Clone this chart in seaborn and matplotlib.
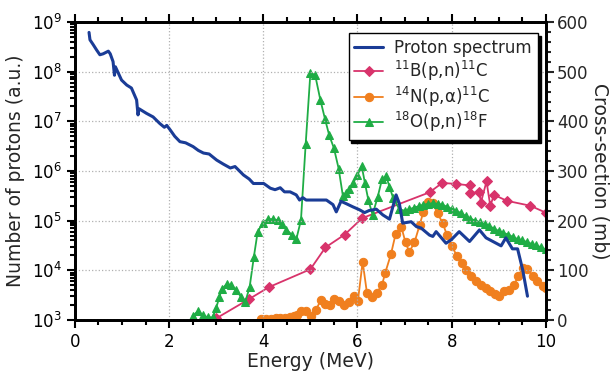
import numpy as np
import pandas as pd
from matplotlib import pyplot as plt
from matplotlib.ticker import MultipleLocator, LogLocator, NullFormatter
import seaborn as sns

sns.set_style('ticks')
plt.rcParams['font.family'] = ['DejaVu Sans']

# proton spectrum (left axis, a.u.)
spec_energy = [0.30, 0.32, 0.39, 0.46, 0.53, 0.60, 0.71, 0.75, 0.81, 0.84, 0.86, 0.99, 1.10, 1.20,
               1.31, 1.34, 1.36, 1.52, 1.66, 1.80, 1.90, 1.95, 2.02, 2.12, 2.23, 2.35, 2.51, 2.62,
               2.73, 2.85, 3.01, 3.15, 3.30, 3.40, 3.58, 3.70, 3.79, 4.01, 4.15, 4.25, 4.36, 4.45,
               4.57, 4.70, 4.77, 4.84, 4.91, 5.12, 5.34, 5.48, 5.55, 5.65, 5.76, 5.90, 6.04, 6.15,
               6.25, 6.40, 6.54, 6.68, 6.82, 6.89, 6.96, 7.14, 7.25, 7.35, 7.53, 7.60, 7.67, 7.88,
               7.99, 8.16, 8.38, 8.59, 8.73, 9.05, 9.15, 9.29, 9.40, 9.51, 9.61]
spec_counts = [6.2e8, 4.4e8, 3.5e8, 2.75e8, 2.2e8, 2.3e8, 2.6e8, 2.3e8, 1.6e8, 8.5e7, 1.26e8, 6.8e7,
               5.4e7, 4.7e7, 2.7e7, 1.35e7, 1.8e7, 1.45e7, 1.23e7, 9.1e6, 7.6e6, 8.3e6, 6.8e6, 5.0e6,
               3.9e6, 3.7e6, 3.1e6, 2.6e6, 2.3e6, 2.2e6, 1.66e6, 1.38e6, 1.15e6, 1.23e6, 8.3e5, 6.9e5,
               5.6e5, 5.6e5, 4.5e5, 4.2e5, 4.6e5, 3.8e5, 3.8e5, 3.3e5, 2.6e5, 2.9e5, 2.6e5, 2.6e5,
               2.6e5, 2.1e5, 1.5e5, 2.45e5, 2.2e5, 1.9e5, 1.66e5, 1.45e5, 1.6e5, 1.7e5, 1.3e5, 1.07e5,
               3.3e5, 2.2e5, 8.9e4, 9.5e4, 7.6e4, 7.1e4, 5.1e4, 4.8e4, 6.0e4, 3.5e4, 4.1e4, 6.0e4,
               3.8e4, 6.5e4, 4.5e4, 3.1e4, 4.5e4, 2.7e4, 2.7e4, 1.0e4, 3.0e3]

# 11B(p,n)11C cross-section (mb)
b11_energy = [3.00, 3.70, 4.12, 5.00, 5.32, 5.73, 6.10, 7.53, 7.80, 8.09, 8.38, 8.40, 8.59, 8.62,
              8.74, 8.82, 8.90, 9.17, 9.67, 10.0]
b11_xs = [3, 42, 66, 102, 146, 172, 205, 257, 276, 274, 271, 255, 258, 236, 279, 230, 252, 240, 230, 216]

# 14N(p,a)11C cross-section (mb)
n14_energy = [3.96, 4.06, 4.16, 4.26, 4.36, 4.46, 4.56, 4.65, 4.72, 4.81, 4.91, 5.02, 5.12, 5.22,
              5.32, 5.41, 5.51, 5.61, 5.71, 5.81, 5.92, 6.01, 6.11, 6.20, 6.31, 6.41, 6.52, 6.59,
              6.71, 6.81, 6.93, 7.02, 7.10, 7.21, 7.32, 7.40, 7.49, 7.60, 7.70, 7.81, 7.90, 8.01,
              8.11, 8.21, 8.31, 8.41, 8.52, 8.62, 8.72, 8.81, 8.92, 9.01, 9.12, 9.21, 9.33, 9.41,
              9.52, 9.61, 9.72, 9.82, 9.93, 10.0]
n14_xs = [2, 2, 2, 3, 3, 4, 5, 7, 9, 17, 17, 8, 20, 40, 32, 30, 42, 39, 30, 37, 48, 39, 117, 55,
          47, 55, 70, 95, 132, 173, 188, 156, 137, 156, 191, 218, 238, 235, 215, 195, 171, 148,
          129, 114, 101, 89, 79, 70, 64, 58, 52, 49, 59, 60, 70, 89, 104, 102, 89, 79, 68, 64]

# 18O(p,n)18F cross-section (mb)
o18_energy = [2.50, 2.62, 2.72, 2.83, 2.93, 3.00, 3.07, 3.12, 3.22, 3.32, 3.43, 3.52, 3.62, 3.71,
              3.80, 3.88, 3.99, 4.10, 4.20, 4.31, 4.40, 4.49, 4.60, 4.70, 4.80, 4.90, 5.00, 5.10,
              5.21, 5.31, 5.40, 5.50, 5.60, 5.69, 5.76, 5.83, 5.91, 6.00, 6.09, 6.16, 6.23, 6.32,
              6.43, 6.52, 6.61, 6.68, 6.76, 6.89, 7.0, 7.1, 7.2, 7.3, 7.4, 7.5, 7.6, 7.7, 7.8,
              7.9, 8.0, 8.1, 8.2, 8.3, 8.4, 8.5, 8.6, 8.7, 8.8, 8.9, 9.0, 9.1, 9.2, 9.3, 9.4,
              9.5, 9.6, 9.7, 9.8, 9.9, 10.0]
o18_xs = [8, 18, 9, 5, 5, 24, 47, 62, 72, 70, 60, 47, 37, 66, 127, 177, 196, 203, 203, 201, 193,
          182, 172, 162, 201, 354, 497, 494, 444, 405, 372, 346, 305, 250, 256, 264, 276, 292,
          310, 275, 242, 212, 248, 283, 290, 268, 245, 223, 220, 223, 226, 229, 232, 234, 235,
          234, 232, 228, 224, 220, 215, 209, 204, 200, 197, 193, 189, 184, 179, 175, 172, 167,
          163, 160, 157, 153, 150, 146, 142]

blue = '#1a3c96'
pink = '#d8336b'
orange = '#f07f1e'
green = '#1fad45'

fig = plt.figure(figsize=(6.14, 3.75), dpi=100)
ax = fig.add_axes([0.122, 0.147, 0.767, 0.794])
ax2 = ax.twinx()

# cross-sections on the right axis
sns.lineplot(x=b11_energy, y=b11_xs, ax=ax2, color=pink, lw=1.3, marker='D', markersize=5,
             markeredgecolor=pink, sort=False, label=r'$^{11}$B(p,n)$^{11}$C')
sns.lineplot(x=n14_energy, y=n14_xs, ax=ax2, color=orange, lw=1.3, marker='o', markersize=6,
             markeredgecolor=orange, sort=False, label=r'$^{14}$N(p,α)$^{11}$C')
sns.lineplot(x=o18_energy, y=o18_xs, ax=ax2, color=green, lw=1.3, marker='^', markersize=6,
             markeredgecolor=green, sort=False, label=r'$^{18}$O(p,n)$^{18}$F')

# spectrum on the left (log) axis, drawn on top
sns.lineplot(x=spec_energy, y=spec_counts, ax=ax, color=blue, lw=2.2, sort=False,
             label='Proton spectrum')

ax.set_zorder(ax2.get_zorder() + 1)
ax.patch.set_visible(False)

ax.set_yscale('log')
ax.set_ylim(1e3, 1e9)
ax.set_xlim(0, 10)
ax.xaxis.set_major_locator(MultipleLocator(2))
ax.xaxis.set_minor_locator(MultipleLocator(0.5))
ax.yaxis.set_major_locator(LogLocator(base=10, numticks=10))
ax.yaxis.set_minor_locator(LogLocator(base=10, subs=np.arange(2, 10), numticks=10))
ax.yaxis.set_minor_formatter(NullFormatter())

ax2.set_ylim(0, 600)
ax2.yaxis.set_major_locator(MultipleLocator(100))
ax2.yaxis.set_minor_locator(MultipleLocator(20))

ax.grid(True, which='major', ls=':', color='#b0b0b0', lw=0.9)

ax.tick_params(which='both', direction='out', width=1.5, top=True, labelsize=12, colors='black')
ax.tick_params(which='major', length=6)
ax.tick_params(which='minor', length=3.5)
ax2.tick_params(which='both', direction='out', width=1.5, labelsize=12, pad=2)
ax2.tick_params(which='major', length=6)
ax2.tick_params(which='minor', length=3.5)
for a in (ax, ax2):
    for s in a.spines.values():
        s.set_linewidth(2)
        s.set_color('black')

ax.set_xlabel('Energy (MeV)', fontsize=13.5, labelpad=1)
ax.set_ylabel('Number of protons (a.u.)', fontsize=13.5, labelpad=5)
ax2.set_ylabel('Cross-section (mb)', fontsize=13.5, rotation=270, labelpad=15)

h1, l1 = ax.get_legend_handles_labels()
h2, l2 = ax2.get_legend_handles_labels()
ax2.get_legend().remove()
ax.get_legend().remove()
leg = ax.legend(h1 + h2, l1 + l2, loc='upper right', bbox_to_anchor=(0.983, 0.963), fontsize=12,
                frameon=True, fancybox=False, framealpha=1, edgecolor='black', borderaxespad=0,
                shadow={'color': 'black', 'alpha': 1}, handlelength=1.7, borderpad=0.35,
                labelspacing=0.1, handletextpad=0.7)
leg.get_frame().set_linewidth(1.0)

plt.savefig('out.png', dpi=100)
